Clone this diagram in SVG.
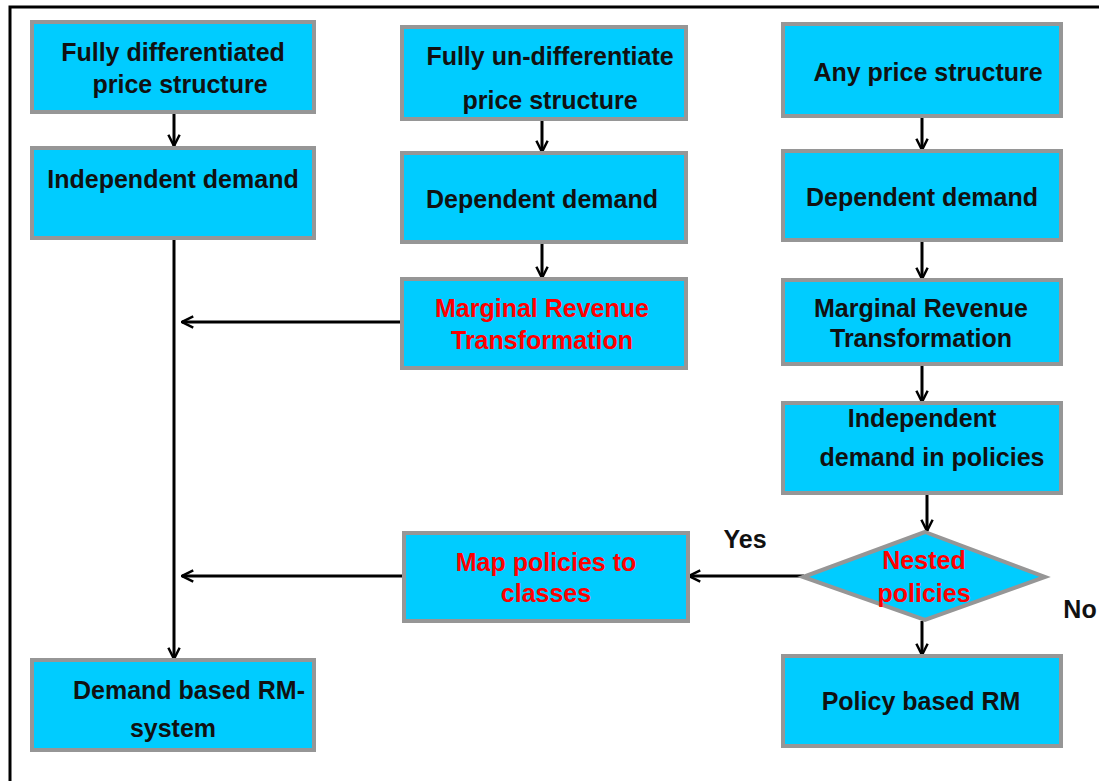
<svg xmlns="http://www.w3.org/2000/svg" width="1099" height="781" viewBox="0 0 1099 781">
<defs>
<style>
.box{fill:#00CCFF;stroke:#969696;stroke-width:4}
.t{font-family:"Liberation Sans",Arial,sans-serif;font-weight:bold;font-size:25px;fill:#111;text-anchor:middle}
.r{fill:#FF0000}
.c{stroke:#000;stroke-width:3;fill:none;marker-end:url(#ah)}
</style>
<marker id="ah" viewBox="0 0 12 12" refX="11" refY="6" markerWidth="4.5" markerHeight="4.5" orient="auto" markerUnits="strokeWidth">
<path d="M1,1 L11,6 L1,11" fill="none" stroke="#000" stroke-width="2.2"/>
</marker>
</defs>
<rect x="0" y="0" width="1099" height="781" fill="#fff"/>
<path d="M10,781 V7 H1099" fill="none" stroke="#000" stroke-width="3"/>

<g id="connectors">
<line class="c" x1="174" y1="113" x2="174" y2="146"/>
<line class="c" x1="174" y1="239" x2="174" y2="659"/>
<line class="c" x1="401" y1="322" x2="182" y2="322"/>
<line class="c" x1="403" y1="576" x2="182" y2="576"/>
<line class="c" x1="542" y1="120" x2="542" y2="152"/>
<line class="c" x1="542" y1="243" x2="542" y2="278"/>
<line class="c" x1="922" y1="117" x2="922" y2="150"/>
<line class="c" x1="922" y1="241" x2="922" y2="279"/>
<line class="c" x1="922" y1="365" x2="922" y2="402"/>
<line class="c" x1="927" y1="494" x2="927" y2="531"/>
<line class="c" x1="804" y1="576" x2="689" y2="576"/>
<line class="c" x1="922" y1="621" x2="922" y2="655"/>
</g>

<g id="n1"><rect class="box" x="32" y="22" width="282" height="90"/>
<text class="t" x="173" y="61">Fully differentiated</text><text class="t" x="180" y="93">price structure</text></g>
<g id="n2"><rect class="box" x="32" y="148" width="282" height="90"/>
<text class="t" x="173" y="188">Independent demand</text></g>
<g id="n3"><rect class="box" x="32" y="660" width="282" height="90"/>
<text class="t" x="189" y="699">Demand based RM-</text><text class="t" x="173" y="737">system</text></g>

<g id="n4"><rect class="box" x="402" y="27" width="284" height="92"/>
<text class="t" x="550" y="65">Fully un-differentiate</text><text class="t" x="550" y="109">price structure</text></g>
<g id="n5"><rect class="box" x="402" y="153" width="284" height="89"/>
<text class="t" x="542" y="208">Dependent demand</text></g>
<g id="n6"><rect class="box" x="402" y="279" width="284" height="89"/>
<text class="t r" x="542" y="317">Marginal Revenue</text><text class="t r" x="542" y="349">Transformation</text></g>
<g id="n7"><rect class="box" x="404" y="533" width="284" height="88"/>
<text class="t r" x="546" y="571">Map policies to</text><text class="t r" x="546" y="602">classes</text></g>

<g id="n8"><rect class="box" x="783" y="24" width="278" height="92"/>
<text class="t" x="928" y="81">Any price structure</text></g>
<g id="n9"><rect class="box" x="783" y="151" width="278" height="89"/>
<text class="t" x="922" y="206">Dependent demand</text></g>
<g id="n10"><rect class="box" x="783" y="280" width="278" height="84"/>
<text class="t" x="921" y="317">Marginal Revenue</text><text class="t" x="921" y="347">Transformation</text></g>
<g id="n11"><rect class="box" x="783" y="403" width="278" height="90"/>
<text class="t" x="922" y="427">Independent</text><text class="t" x="932" y="466">demand in policies</text></g>
<g id="n12"><polygon class="box" points="925,532 1045,577 925,620 803,577"/>
<text class="t r" x="924" y="569">Nested</text><text class="t r" x="924" y="602">policies</text></g>
<g id="n13"><rect class="box" x="783" y="656" width="278" height="90"/>
<text class="t" x="921" y="710">Policy based RM</text></g>

<text class="t" x="745" y="548">Yes</text>
<text class="t" x="1080" y="618">No</text>
</svg>
